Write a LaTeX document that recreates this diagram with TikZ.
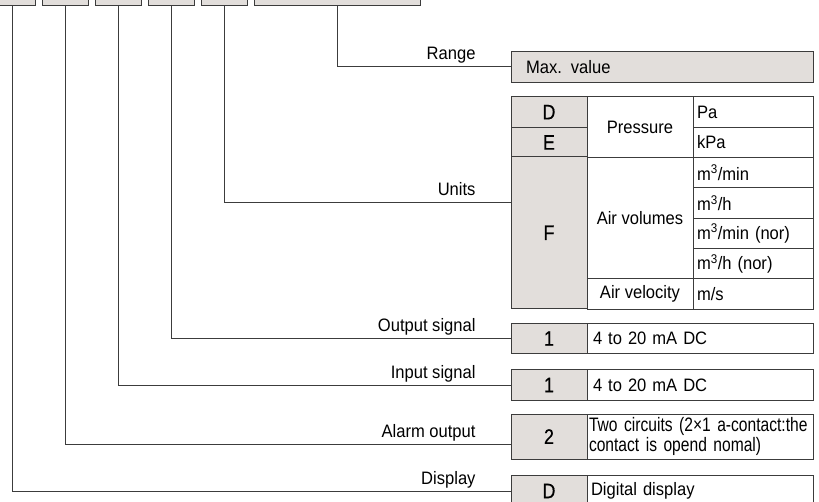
\documentclass[tikz,border=0pt]{standalone}
\usepackage{fontspec}
\setmainfont[FakeStretch=0.92]{Liberation Sans}
\newfontfamily\codefont[FakeBold=0.5,FakeStretch=0.85]{Liberation Sans}
\newfontfamily\narrowfont[FakeStretch=0.8]{Liberation Sans}
\usetikzlibrary{positioning}
\definecolor{cellgrey}{RGB}{226,222,219}
\definecolor{linegrey}{RGB}{60,60,60}

\begin{document}
\begin{tikzpicture}[x=1pt,y=-1pt,font=\fontsize{18}{19}\selectfont,
    cell/.style={draw=linegrey,line width=1pt,inner sep=0pt,outer sep=0pt,minimum height=30.3pt},
    code/.style={cell,fill=cellgrey,minimum width=76pt,font=\codefont\fontsize{21}{21}\selectfont},
    unitcell/.style={cell,text width=112pt,inner xsep=4pt,align=left},
    desc/.style={cell,text width=214pt,inner xsep=6pt,align=left},
    conn/.style={draw=linegrey,line width=1pt},
    lbl/.style={anchor=base east,xshift=-35pt,yshift=7pt,inner sep=0pt}]
\useasboundingbox (0,0) rectangle (819,502);
\clip (0,0) rectangle (819,502);

% code boxes at the top
\foreach \n/\x/\w in {1/12/46,2/65/46,3/118/46,4/171/46,5/224/46,6/337/166}
    \node[cell,fill=cellgrey,minimum width=\w pt,minimum height=26pt] (top\n) at (\x,-7) {};

% range
\node[cell,fill=cellgrey,text width=272pt,inner xsep=15pt,align=left] (maxv) at (662,67) {Max. value};

% units table
\node[code] (uD) at (549,112.15) {D};
\node[code] (uE) at (549,142.45) {E};
\node[code,minimum height=151.5pt] (uF) at (549,232.75) {F};
\node[cell,minimum width=106pt,minimum height=60.6pt] (press) at (640,127.3) {Pressure};
\node[cell,minimum width=106pt,minimum height=121.2pt] (airvol) at (640,218.2) {Air volumes};
\node[cell,minimum width=106pt] (airvel) at (640,293.95) {Air velocity};
\foreach \u [count=\i] in {Pa,kPa,m\textsuperscript{3}/min,m\textsuperscript{3}/h,
    m\textsuperscript{3}/min (nor),m\textsuperscript{3}/h (nor),m/s}
    \node[unitcell] (unit\i) at (753,{97+30.3*\i-15.15}) {\u};

% signal rows
\node[code] (out1) at (549,338.5) {1};
\node[desc,right=0pt of out1] (out2) {4 to 20 mA DC};
\node[code] (in1) at (549,385) {1};
\node[desc,right=0pt of in1] (in2) {4 to 20 mA DC};
\node[code,minimum height=45pt] (al1) at (549,436.5) {2};
\node[desc,minimum height=45pt,text width=222pt,inner xsep=2pt,
    font=\narrowfont\fontsize{19.5}{15.7}\selectfont,right=0pt of al1] (al2)
    {\mbox{Two circuits (2×1 a-contact:the}\\\mbox{contact is opend nomal)}};
\node[code] (disp1) at (549,491) {D};
\node[desc,inner xsep=4pt,text width=218pt,right=0pt of disp1] (disp2) {Digital display};

% connectors
\draw[conn] (top6.south) |- (maxv.west) node[lbl] (lrange) {Range};
\draw[conn] (top5.south) |- ([yshift=30pt]uF.west) node[lbl] (lunits) {Units};
\draw[conn] (top4.south) |- (out1.west) node[lbl] (lout) {Output signal};
\draw[conn] (top3.south) |- (in1.west) node[lbl] (lin) {Input signal};
\draw[conn] (top2.south) |- ([yshift=-7.5pt]al1.west) node[lbl] (lalarm) {Alarm output};
\draw[conn] (top1.south) |- (disp1.west) node[lbl] (ldisp) {Display};
\end{tikzpicture}
\end{document}
